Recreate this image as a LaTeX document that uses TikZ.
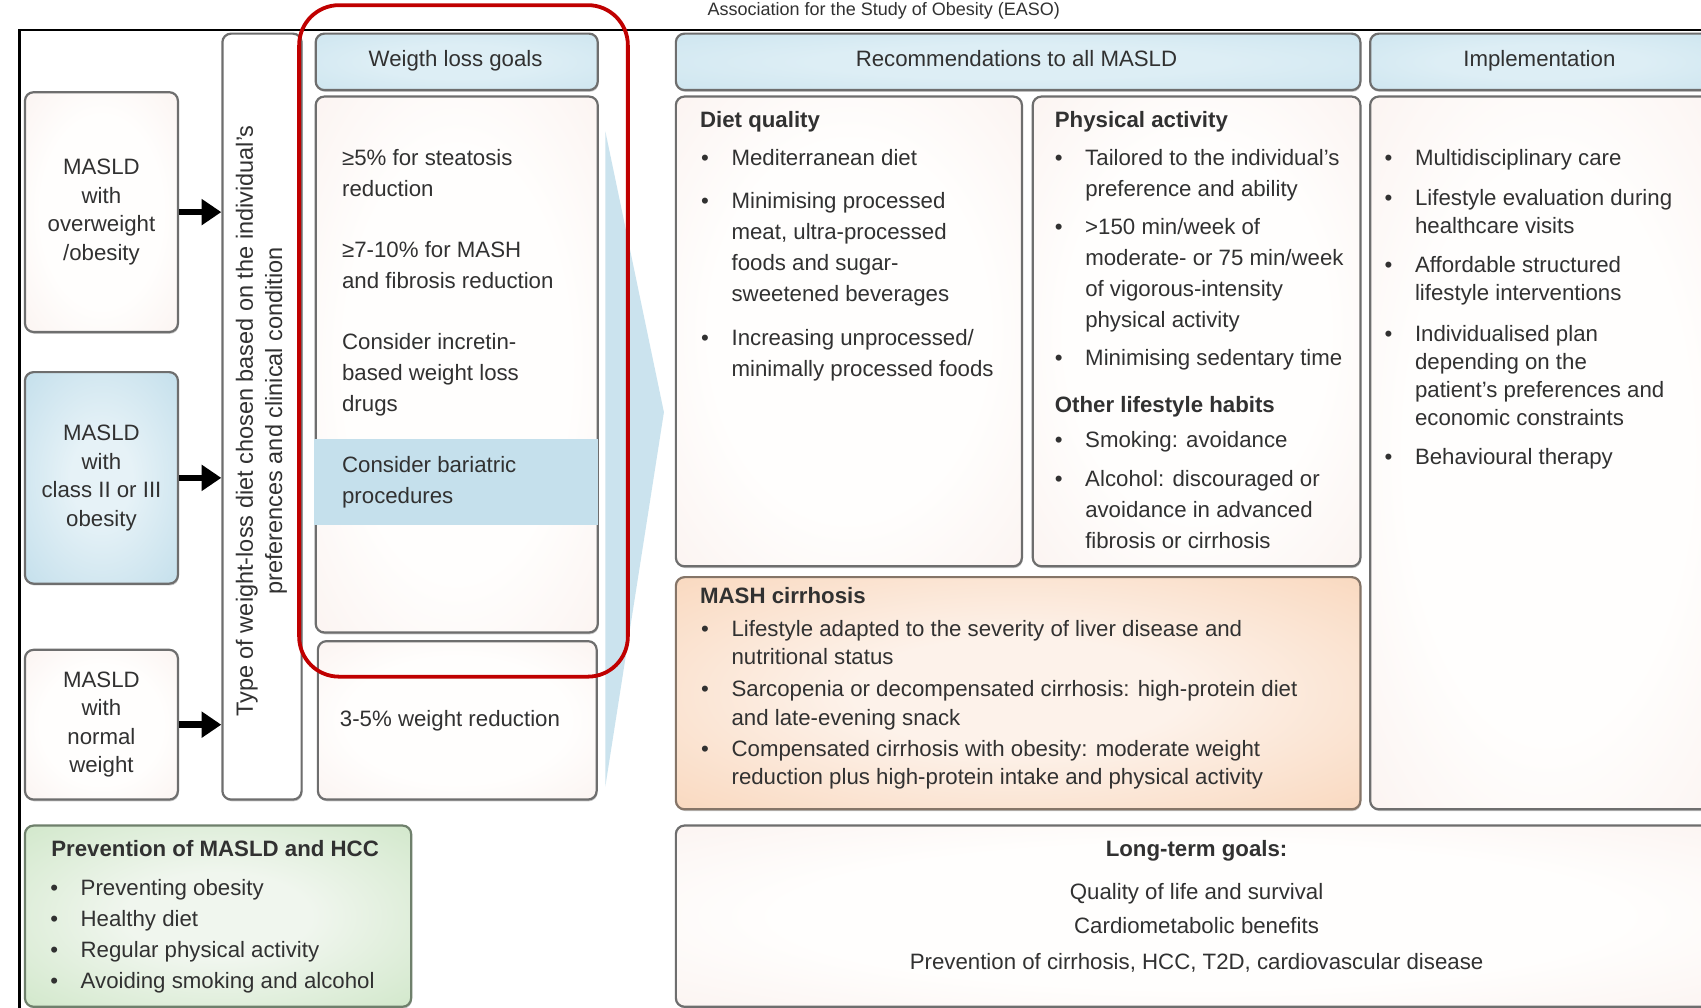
\documentclass[tikz,border=0pt]{standalone}
\usepackage{fontspec}
\setmainfont{Liberation Sans}
\usetikzlibrary{arrows.meta,shadows}

\definecolor{txtc}{HTML}{313131}
\definecolor{bordc}{HTML}{6E6E6E}
\definecolor{pinkin}{HTML}{FFFEFD}
\definecolor{pinkout}{HTML}{F8EBE7}
\definecolor{blueA}{HTML}{E6F2F7}
\definecolor{blueB}{HTML}{BCDBE9}
\definecolor{hdrA}{HTML}{DDEEF5}
\definecolor{hdrB}{HTML}{C4E0EC}
\definecolor{bandc}{HTML}{C5E0EC}
\definecolor{chevc}{HTML}{CBE3EE}
\definecolor{orin}{HTML}{FDF2EA}
\definecolor{orout}{HTML}{F8D2B4}
\definecolor{orbord}{HTML}{857568}
\definecolor{grin}{HTML}{F0F6EE}
\definecolor{grout}{HTML}{CAE4C2}
\definecolor{grbord}{HTML}{6F806C}
\definecolor{redc}{HTML}{C00000}

\pgfdeclareradialshading{pinksh}{\pgfpointorigin}{color(0bp)=(pinkin); color(20bp)=(pinkin); color(50bp)=(pinkout)}
\pgfdeclareradialshading{bluesh}{\pgfpointorigin}{color(0bp)=(blueA); color(10bp)=(blueA); color(42bp)=(blueB); color(50bp)=(blueB)}
\pgfdeclareradialshading{hdrsh}{\pgfpointorigin}{color(0bp)=(hdrA); color(15bp)=(hdrA); color(50bp)=(hdrB)}
\pgfdeclareradialshading{orsh}{\pgfpointorigin}{color(0bp)=(orin); color(12bp)=(orin); color(42bp)=(orout); color(50bp)=(orout)}
\pgfdeclareradialshading{grsh}{\pgfpointorigin}{color(0bp)=(grin); color(12bp)=(grin); color(42bp)=(grout); color(50bp)=(grout)}

\newcommand\uu{0.5424pt}
\newcommand\bl{\makebox[15.2pt][l]{•}}
\newcommand\ind{\hspace*{15.2pt}}
\newcommand\fr{\rule{0pt}{10.85pt}}
\newcommand\fsz[1]{\fontsize{11.12pt}{#1pt}\selectfont}
\newcommand\boxat[7]{\node[#2, anchor=north west, minimum width={(#5-#3)*\uu}, minimum height={(#6-#4)*\uu}] (#1) at (#3,#4) {#7};}

\tikzset{
 box/.style={draw=bordc, line width=1.1pt, rounded corners=4.3pt, inner sep=0pt,
   drop shadow={shadow xshift=0.4pt, shadow yshift=-0.9pt, opacity=0.22, fill=black}},
 pinkbox/.style={box, shade, shading=pinksh},
 hdrbox/.style={box, shade, shading=hdrsh},
 bluebox/.style={box, shade, shading=bluesh},
 orbox/.style={box, draw=orbord, shade, shading=orsh},
 grbox/.style={box, draw=grbord, shade, shading=grsh},
 plainbox/.style={box, fill=white},
 itm/.style={anchor=north west, inner sep=0pt, align=left},
 ttl/.style={itm, font={\fsz{15.46}\bfseries}},
 ctr/.style={anchor=north, inner sep=0pt, align=center},
 fatarrow/.style={-{Triangle[length=9.8pt,width=12.5pt]}, line width=3.3pt, black},
}

\begin{document}
\begin{tikzpicture}[x=0.5424pt,y=-0.5424pt, font=\fsz{15.46}, text=txtc]
\clip (0,0) rectangle (1568,929);
\fill[white] (0,0) rectangle (1568,929);

% source line
\node[anchor=base west, inner sep=0pt, font=\fontsize{9pt}{11pt}\selectfont] (src) at (652,14) {Association for the Study of Obesity (EASO)};

% frame
\draw[line width=1.1pt, black] (18,940) -- (18,28) -- (1580,28);

% chevron
\fill[chevc] (558,121) -- (612,380) -- (558,725) -- cycle;

% left boxes
\boxat{b1}{pinkbox, align=center, font=\fsz{14.27}}{22}{84}{163}{305}{MASLD\\with\\overweight\\/obesity}
\boxat{b2}{bluebox, align=center, font=\fsz{14.27}}{22}{342}{163}{537}{MASLD\\with\\class II or III\\obesity}
\boxat{b3}{pinkbox, align=center, font=\fsz{14.27}}{22}{598}{163}{736}{MASLD\\with\\normal\\weight}

% vertical box
\boxat{vb}{plainbox}{204}{30}{277}{736}{}
\node[rotate=90, align=center, inner sep=0pt, font=\fontsize{11.75pt}{14.65pt}\selectfont] (vt) at (241,388) {Type of weight-loss diet chosen based on the individual’s\\preferences and clinical condition};

% arrows
\draw[fatarrow] (b1.east) -- (b1.east -| vb.west);
\draw[fatarrow] (b2.east) -- (b2.east -| vb.west);
\draw[fatarrow] (b3.east) -- (b3.east -| vb.west);

% weight loss goals
\boxat{hwl}{hdrbox}{290}{30}{550}{82}{}
\node[inner sep=0pt] (hwlt) at (420,56) {Weigth loss goals};
\boxat{gbox}{pinkbox}{290}{88}{550}{582}{}
\fill[bandc] (289,405) rectangle (551,484);
\boxat{g35}{pinkbox}{292}{590}{549}{736}{}

\node[itm] (g1) at (315,132) {\fr ≥5\% for steatosis\\reduction};
\node[itm] (g2) at (315,217) {\fr ≥7-10\% for MASH\\and fibrosis reduction};
\node[itm] (g3) at (315,302) {\fr Consider incretin-\\based weight loss\\drugs};
\node[itm] (g4) at (315,415) {\fr Consider bariatric\\procedures};
\node[itm] (g5) at (313,649) {\fr 3-5\% weight reduction};

% recommendations
\boxat{hrec}{hdrbox}{622}{30}{1253}{82}{}
\node[inner sep=0pt] (hrect) at (937,54) {Recommendations to all MASLD};
\boxat{dqbox}{pinkbox}{622}{88}{941}{521}{}
\boxat{pabox}{pinkbox}{951}{88}{1253}{521}{}
\boxat{mcbox}{orbox}{622}{531}{1253}{745}{}

\node[ttl] (dqt) at (645,97) {\fr Diet quality};
\node[itm] (dq1) at (646,132) {\fr\bl Mediterranean diet};
\node[itm] (dq2) at (646,172) {\fr\bl Minimising processed\\\ind meat, ultra-processed\\\ind foods and sugar-\\\ind sweetened beverages};
\node[itm] (dq3) at (646,298) {\fr\bl Increasing unprocessed/\\\ind minimally processed foods};

\node[ttl] (pat) at (972,97) {\fr Physical activity};
\node[itm] (pa1) at (972,132) {\fr\bl Tailored to the individual’s\\\ind preference and ability};
\node[itm] (pa2) at (972,196) {\fr\bl >150 min/week of\\\ind moderate- or 75 min/week\\\ind of vigorous-intensity\\\ind physical activity};
\node[itm] (pa3) at (972,317) {\fr\bl Minimising sedentary time};
\node[ttl] (olt) at (972,360) {\fr Other lifestyle habits};
\node[itm] (ol1) at (972,392) {\fr\bl Smoking: avoidance};
\node[itm] (ol2) at (972,428) {\fr\bl Alcohol: discouraged or\\\ind avoidance in advanced\\\ind fibrosis or cirrhosis};

\node[ttl] (mct) at (645,536) {\fr MASH cirrhosis};
\node[itm, font=\fsz{14.1}] (mc1) at (646,566) {\fr\bl Lifestyle adapted to the severity of liver disease and\\\ind nutritional status};
\node[itm, font=\fsz{14.1}] (mc2) at (646,622) {\fr\bl Sarcopenia or decompensated cirrhosis: high-protein diet\\\ind and late-evening snack};
\node[itm, font=\fsz{14.1}] (mc3) at (646,677) {\fr\bl Compensated cirrhosis with obesity: moderate weight\\\ind reduction plus high-protein intake and physical activity};

% implementation
\boxat{himp}{hdrbox}{1262}{30}{1576}{82}{}
\node[inner sep=0pt] (himpt) at (1419,56) {Implementation};
\boxat{imbox}{pinkbox}{1262}{88}{1590}{745}{}
\node[itm, font=\fsz{14.1}] (im1) at (1276,132) {\fr\bl Multidisciplinary care};
\node[itm, font=\fsz{14.1}] (im2) at (1276,169) {\fr\bl Lifestyle evaluation during\\\ind healthcare visits};
\node[itm, font=\fsz{14.1}] (im3) at (1276,231) {\fr\bl Affordable structured\\\ind lifestyle interventions};
\node[itm, font=\fsz{14.1}] (im4) at (1276,294) {\fr\bl Individualised plan\\\ind depending on the\\\ind patient’s preferences and\\\ind economic constraints};
\node[itm, font=\fsz{14.1}] (im5) at (1276,408) {\fr\bl Behavioural therapy};

% prevention
\boxat{pvbox}{grbox}{22}{760}{378}{927}{}
\node[ttl] (pvt) at (47,769) {\fr Prevention of MASLD and HCC};
\node[itm, font=\fsz{15.5}] (pv1) at (46,805) {\fr\bl Preventing obesity\\\bl Healthy diet\\\bl Regular physical activity\\\bl Avoiding smoking and alcohol};

% long-term goals
\boxat{ltbox}{pinkbox}{622}{760}{1590}{927}{}
\node[ctr, font={\fsz{15}\bfseries}] (ltt) at (1103,769) {\fr Long-term goals:};
\node[ctr] (lt1) at (1103,809) {\fr Quality of life and survival};
\node[ctr] (lt2) at (1103,840) {\fr Cardiometabolic benefits};
\node[ctr] (lt3) at (1103,873) {\fr Prevention of cirrhosis, HCC, T2D, cardiovascular disease};

% red focus frame
\node[draw=redc, line width=1.9pt, rounded corners=20pt, anchor=north west, inner sep=0pt,
  minimum width={303*\uu}, minimum height={619*\uu}] (focus) at (274,3) {};
\end{tikzpicture}
\end{document}
